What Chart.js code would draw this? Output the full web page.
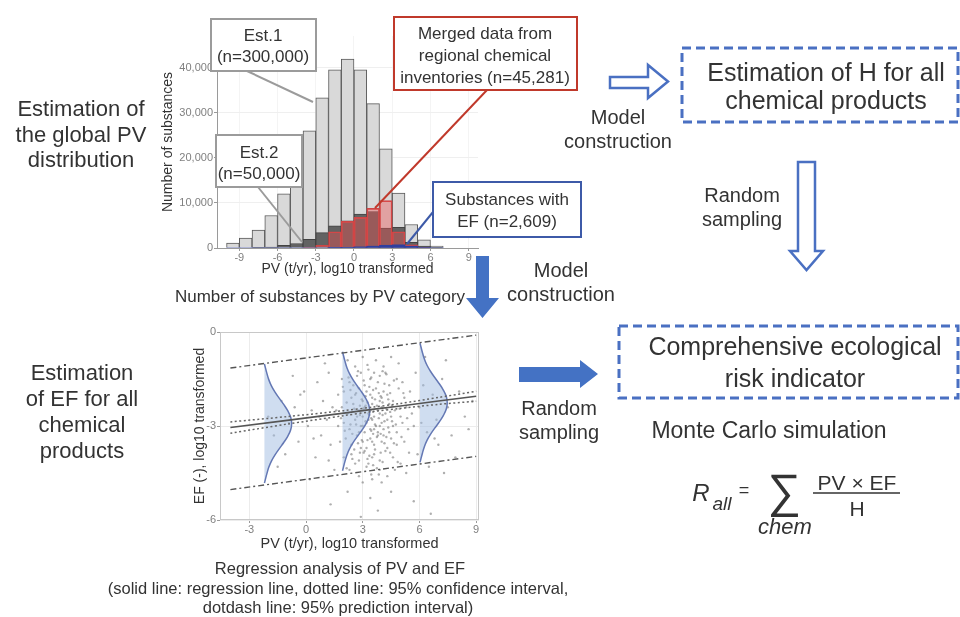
<!DOCTYPE html>
<html><head><meta charset="utf-8">
<script src="https://cdn.jsdelivr.net/npm/chart.js@4.4.0/dist/chart.umd.min.js"></script>
<style>
html,body{margin:0;padding:0;background:#fff;}
#stage{position:relative;width:960px;height:617px;overflow:hidden;font-family:"Liberation Sans",Arial,sans-serif;color:#333;}
.c{position:absolute;}
.t{position:absolute;white-space:nowrap;transform:translate(-50%,-50%);line-height:1;}
svg{position:absolute;left:0;top:0;}
</style></head>
<body><div id="stage">
<div class="c" style="left:150px;top:20px;width:330px;height:265px"><canvas id="hist" width="330" height="265"></canvas></div>
<div class="c" style="left:180px;top:320px;width:310px;height:240px"><canvas id="scat" width="310" height="240"></canvas></div>
<svg width="960" height="617">
  <line x1="247" y1="71" x2="313" y2="102" stroke="#9b9b9b" stroke-width="2"/>
  <rect x="211" y="19" width="105" height="52" fill="#fff" stroke="#9b9b9b" stroke-width="2"/>
  <line x1="258" y1="187" x2="302" y2="242" stroke="#9b9b9b" stroke-width="2"/>
  <rect x="216" y="135" width="86" height="52" fill="#fff" stroke="#9b9b9b" stroke-width="2"/>
  <line x1="487" y1="90" x2="375" y2="208" stroke="#c0392b" stroke-width="2"/>
  <rect x="394" y="17" width="183" height="73" fill="#fff" stroke="#c0392b" stroke-width="2"/>
  <line x1="433" y1="212" x2="407" y2="244" stroke="#3d5aa8" stroke-width="2"/>
  <rect x="433" y="182" width="148" height="55" fill="#fff" stroke="#3d5aa8" stroke-width="2"/>
  <polygon points="610,77 648,77 648,65 668,81.5 648,98 648,88 610,88" fill="#fff" stroke="#4a70c2" stroke-width="2.5"/>
  <polygon points="798,162 815,162 815,251 823,251 806.5,270 790,251 798,251" fill="#fff" stroke="#4a70c2" stroke-width="2.5"/>
  <polygon points="476,256 489,256 489,298 499,298 482.5,318 466,298 476,298" fill="#4472c4"/>
  <polygon points="519,367 580,367 580,360 598,374 580,388 580,382 519,382" fill="#4472c4"/>
  <rect x="682" y="48" width="276" height="74" fill="none" stroke="#4a70c2" stroke-width="3" stroke-dasharray="9 5"/>
  <rect x="619" y="326" width="339" height="72" fill="none" stroke="#4a70c2" stroke-width="3" stroke-dasharray="9 5"/>
  <line x1="813" y1="493" x2="900" y2="493" stroke="#333" stroke-width="1.6"/>
</svg>

<div class="t" style="left:81px;top:109px;font-size:22px">Estimation of</div>
<div class="t" style="left:81px;top:135px;font-size:22px">the global PV</div>
<div class="t" style="left:81px;top:160px;font-size:22px">distribution</div>
<div class="t" style="left:82px;top:373px;font-size:22px">Estimation</div>
<div class="t" style="left:82px;top:399px;font-size:22px">of EF for all</div>
<div class="t" style="left:82px;top:425px;font-size:22px">chemical</div>
<div class="t" style="left:82px;top:451px;font-size:22px">products</div>

<div class="t" style="left:263px;top:35px;font-size:17px">Est.1</div>
<div class="t" style="left:263px;top:56px;font-size:17px">(n=300,000)</div>
<div class="t" style="left:259px;top:152px;font-size:17px">Est.2</div>
<div class="t" style="left:259px;top:173px;font-size:17px">(n=50,000)</div>
<div class="t" style="left:485px;top:33px;font-size:17px">Merged data from</div>
<div class="t" style="left:485px;top:55px;font-size:17px">regional chemical</div>
<div class="t" style="left:485px;top:77px;font-size:17px">inventories (n=45,281)</div>
<div class="t" style="left:507px;top:199px;font-size:17px">Substances with</div>
<div class="t" style="left:507px;top:221px;font-size:17px">EF (n=2,609)</div>

<div class="t" style="left:320px;top:296px;font-size:17px">Number of substances by PV category</div>

<div class="t" style="left:618px;top:117px;font-size:20px">Model</div>
<div class="t" style="left:618px;top:141px;font-size:20px">construction</div>
<div class="t" style="left:826px;top:72px;font-size:25px">Estimation of H for all</div>
<div class="t" style="left:826px;top:100px;font-size:25px">chemical products</div>
<div class="t" style="left:742px;top:195px;font-size:20px">Random</div>
<div class="t" style="left:742px;top:219px;font-size:20px">sampling</div>
<div class="t" style="left:561px;top:270px;font-size:20px">Model</div>
<div class="t" style="left:561px;top:294px;font-size:20px">construction</div>
<div class="t" style="left:795px;top:346px;font-size:25px">Comprehensive ecological</div>
<div class="t" style="left:795px;top:378px;font-size:25px">risk indicator</div>
<div class="t" style="left:559px;top:408px;font-size:20px">Random</div>
<div class="t" style="left:559px;top:432px;font-size:20px">sampling</div>
<div class="t" style="left:769px;top:430px;font-size:23px">Monte Carlo simulation</div>

<div class="t" style="left:701px;top:493px;font-size:24px;font-style:italic">R</div>
<div class="t" style="left:722px;top:503px;font-size:19px;font-style:italic">all</div>
<div class="t" style="left:744px;top:490px;font-size:18px">=</div>
<div class="t" style="left:784px;top:490px;font-size:47px">∑</div>
<div class="t" style="left:785px;top:527px;font-size:22px;font-style:italic">chem</div>
<div class="t" style="left:857px;top:482px;font-size:21px">PV × EF</div>
<div class="t" style="left:857px;top:508px;font-size:21px">H</div>

<div class="t" style="left:340px;top:568px;font-size:16.5px">Regression analysis of PV and EF</div>
<div class="t" style="left:338px;top:588px;font-size:16.5px">(solid line: regression line, dotted line: 95% confidence interval,</div>
<div class="t" style="left:338px;top:607px;font-size:16.5px">dotdash line: 95% prediction interval)</div>
</div>

<script>
// ---------- Histogram data (PV bins, log10 t/yr) ----------
const binCenters   = [-9.5,-8.5,-7.5,-6.5,-5.5,-4.5,-3.5,-2.5,-1.5,-0.5,0.5,1.5,2.5,3.5,4.5,5.5,6.5];
const est1Counts   = [1100,2200,4000,7200,12000,18000,26000,33300,39500,41900,39500,32000,22000,12200,5200,1800,400];
const est2Counts   = [0,0,50,200,600,1000,1900,3400,4900,6000,7500,8100,4400,4600,1250,400,100];
const mergedCounts = [0,0,0,0,0,0,150,600,3600,5900,6800,8800,10500,3600,700,150,0];
const efCounts     = [0,0,0,0,0,0,0,0,50,150,250,400,600,700,400,100,0];
const histXTicks   = [-9,-6,-3,0,3,6,9];
const histYTicks   = [0,10000,20000,30000,40000];

// ---------- Regression panel data ----------
const scatterPoints = [
 [2.2,-0.9],[2.6,-1.1],[3.0,-0.8],[3.3,-1.2],[3.7,-0.9],[4.1,-1.1],[4.5,-0.8],[4.9,-1.0],[2.9,-1.3],[3.9,-1.4],
 [1.9,-1.5],[2.3,-1.6],[2.7,-1.4],[3.1,-1.7],[3.4,-1.5],[3.8,-1.6],[4.2,-1.3],[4.4,-1.7],[4.8,-1.5],[5.1,-1.6],[2.5,-1.7],[3.6,-1.3],
 [1.7,-2.0],[2.0,-1.9],[2.4,-2.1],[2.8,-1.8],[3.0,-2.2],[3.2,-1.9],[3.5,-2.1],[3.7,-1.8],[3.9,-2.2],[4.1,-1.9],[4.3,-2.0],[4.6,-2.2],[4.9,-1.8],[5.2,-2.1],[5.5,-1.9],[2.6,-2.0],[3.4,-2.0],[4.0,-2.1],
 [1.6,-2.5],[1.9,-2.4],[2.2,-2.6],[2.5,-2.3],[2.8,-2.5],[3.0,-2.7],[3.1,-2.4],[3.3,-2.6],[3.5,-2.3],[3.6,-2.7],[3.8,-2.5],[4.0,-2.4],[4.2,-2.6],[4.4,-2.3],[4.7,-2.5],[5.0,-2.7],[5.3,-2.4],[5.6,-2.6],[2.7,-2.7],[3.4,-2.5],[3.9,-2.6],[4.5,-2.7],
 [1.7,-3.0],[2.0,-2.9],[2.3,-3.1],[2.6,-2.8],[2.9,-3.0],[3.1,-3.2],[3.2,-2.9],[3.4,-3.1],[3.5,-2.8],[3.7,-3.0],[3.8,-3.2],[4.0,-2.9],[4.1,-3.1],[4.3,-2.8],[4.6,-3.0],[4.8,-3.2],[5.1,-2.9],[5.4,-3.1],[2.8,-3.2],[3.3,-2.8],[3.6,-3.1],[4.4,-3.2],[3.0,-3.0],[3.9,-3.0],
 [1.8,-3.5],[2.1,-3.4],[2.4,-3.6],[2.7,-3.3],[3.0,-3.5],[3.2,-3.7],[3.4,-3.4],[3.6,-3.6],[3.8,-3.3],[4.0,-3.5],[4.3,-3.7],[4.5,-3.4],[4.8,-3.6],[5.2,-3.5],[2.9,-3.7],[3.5,-3.5],[4.1,-3.3],
 [2.0,-4.0],[2.4,-3.9],[2.8,-4.1],[3.1,-3.8],[3.3,-4.2],[3.6,-3.9],[3.9,-4.1],[4.2,-3.8],[4.6,-4.0],[5.0,-4.2],[3.5,-4.0],[2.6,-4.2],
 [2.3,-4.4],[2.8,-4.6],[3.2,-4.3],[3.5,-4.7],[3.9,-4.4],[4.3,-4.6],[4.7,-4.4],[3.0,-4.8],[4.0,-4.8],[5.3,-4.5],
 [2.2,-5.1],[3.4,-5.3],[4.5,-5.1],[3.8,-5.7],[5.7,-5.4],[1.3,-5.5],[6.6,-5.8],[2.9,-5.9],
 [-2.0,-2.7],[-1.7,-3.3],[-1.3,-2.2],[-1.1,-3.9],[-0.9,-2.9],[-0.6,-2.4],[-0.4,-3.5],[-0.1,-1.9],[0.1,-3.0],[0.3,-2.5],[0.5,-4.0],[0.6,-1.6],[0.8,-3.3],[0.9,-2.2],[1.1,-2.8],[1.2,-1.3],[1.3,-3.6],[1.4,-2.4],[1.5,-4.4],[0.2,-4.7],[-0.7,-1.4],[1.0,-1.0],[-1.5,-4.3],[0.4,-3.4],[1.2,-4.1],[-0.3,-2.0],[0.7,-2.7],
 [5.8,-1.3],[6.0,-2.4],[6.2,-1.7],[6.4,-3.2],[6.7,-2.0],[6.9,-2.8],[7.2,-1.5],[7.5,-2.4],[7.7,-3.3],[8.1,-1.9],[8.4,-2.7],[5.9,-3.9],[6.5,-4.3],[7.0,-3.6],[7.9,-4.0],[8.6,-3.1],[6.3,-0.8],[7.4,-0.9],[5.7,-3.0],[6.1,-2.9],[6.8,-3.4],[7.3,-4.5],[8.8,-2.2],
 [2.65,-1.95],[3.15,-2.35],[3.45,-2.75],[3.75,-3.35],[4.05,-2.25],[4.35,-3.05],[2.85,-2.65],[3.25,-3.45],[3.55,-1.85],[3.95,-3.85],[4.25,-2.45],[2.45,-3.25],[3.05,-1.55],[3.65,-2.15],[4.15,-1.65],[3.35,-3.95],[2.75,-3.55],[4.55,-2.85],[3.85,-2.75],[3.15,-2.05],[2.95,-3.45],[4.45,-1.95],[3.55,-3.25],[2.55,-2.45],[3.75,-4.35],[4.65,-3.55],[3.25,-1.05],[4.05,-4.15],[2.35,-1.85],[3.45,-4.55],
 [2.15,-2.25],[2.35,-2.95],[2.55,-3.75],[2.75,-1.25],[2.95,-2.15],[3.05,-3.85],[3.15,-2.85],[3.25,-2.25],[3.35,-1.75],[3.45,-3.15],[3.55,-2.55],[3.65,-3.75],[3.75,-2.35],[3.85,-1.95],[3.95,-3.25],[4.05,-2.65],[4.15,-3.55],[4.25,-1.35],[4.35,-2.15],[4.45,-3.85],[4.55,-2.35],[4.65,-1.55],[4.75,-2.95],[4.85,-4.15],[4.95,-2.45],[5.05,-3.35],[5.15,-1.95],[2.05,-3.15],[2.25,-1.45],[2.45,-4.05],[2.65,-2.95],[2.85,-3.85],[3.05,-2.45],[3.25,-4.05],[3.45,-1.45],[3.65,-2.95],[3.85,-4.55],[4.05,-1.25],[4.25,-3.35],[4.45,-2.55],[1.85,-2.75],[5.35,-2.75],[5.45,-3.85],[1.95,-1.75],[2.15,-4.35],[3.35,-2.65],[3.95,-2.05],[2.85,-2.35],[4.15,-2.85],[3.55,-4.25]
];
const fitPV      = [-4.0,-1,2,3.5,5,7,9];
const fitEF      = [-3.05,-2.82,-2.59,-2.47,-2.36,-2.20,-2.05];
const ciUpperEF  = [-2.87,-2.70,-2.51,-2.40,-2.28,-2.09,-1.89];
const ciLowerEF  = [-3.23,-2.94,-2.67,-2.54,-2.44,-2.31,-2.21];
const piPV       = [-4.0, 9.0];
const piUpperEF  = [-1.15, -0.10];
const piLowerEF  = [-5.03, -3.97];
const densityBasePV   = [-2.2, 1.93, 6.03];
const densityCenterEF = [-2.92, -2.53, -2.26];
const densityDY    = [1.9,1.6,1.4,1.2,1.0,0.8,0.6,0.4,0.2,0,-0.2,-0.4,-0.6,-0.8,-1.0,-1.2,-1.4,-1.6,-1.9];
const densityWidth = [0,0.13,0.23,0.37,0.56,0.79,1.03,1.24,1.39,1.44,1.39,1.24,1.03,0.79,0.56,0.37,0.23,0.13,0];
const scatXTicks = [-3,0,3,6,9];
const scatYTicks = [-6,-3,0];

const FAM = '"Liberation Sans", Arial, sans-serif';
Chart.defaults.font.family = FAM;

const xy = (xs, ys) => xs.map((x,i)=>({x, y: ys[i]}));
const setTicks = arr => (s => { s.ticks = arr.map(v=>({value:v})); });

// ---------- Histogram ----------
new Chart(document.getElementById('hist'), {
  type: 'bar',
  data: { datasets: [
    {label:'Est.1 (n=300,000)', data: xy(binCenters, est1Counts), backgroundColor:'#d9d9d9', borderColor:'#5a5a5a', borderWidth:1, order:4},
    {label:'Est.2 (n=50,000)', data: xy(binCenters, est2Counts), backgroundColor:'#626262', borderColor:'#444', borderWidth:1, order:3},
    {label:'Merged data', data: xy(binCenters, mergedCounts), backgroundColor:'rgba(238,80,80,0.40)', borderColor:'#cf4545', borderWidth:1, order:2},
    {label:'Substances with EF', data: xy(binCenters, efCounts), backgroundColor:'#2f3f9f', borderWidth:0, order:1}
  ]},
  options: {
    responsive:false, animation:false, devicePixelRatio:1,
    layout:{padding:{left:0,right:2,top:16,bottom:0}},
    plugins:{legend:{display:false}, tooltip:{enabled:false}},
    datasets:{bar:{grouped:false, barPercentage:1, categoryPercentage:1}},
    scales:{
      x:{type:'linear', min:-10.75, max:9.73, offset:false,
         afterBuildTicks: setTicks(histXTicks),
         afterFit: s => { s.height = 37; },
         grid:{color:'#f4f4f4', tickColor:'#999', tickLength:3, offset:false},
         border:{color:'#9a9a9a'},
         ticks:{font:{size:11}, color:'#808080', padding:0, maxRotation:0, autoSkip:false},
         title:{display:true, text:'PV (t/yr), log10 transformed', font:{size:14}, color:'#333', padding:{top:0,bottom:7}}},
      y:{min:0, max:47000,
         afterBuildTicks: setTicks(histYTicks),
         afterFit: s => { s.width = 67; },
         grid:{color:'#efefef', tickColor:'#999', tickLength:3},
         border:{color:'#9a9a9a'},
         ticks:{font:{size:11}, color:'#808080', padding:1, callback: v => v.toLocaleString('en-US')},
         title:{display:true, text:'Number of substances', font:{size:14}, color:'#333', padding:{top:10,bottom:0}}}
    }
  }
});

// ---------- Regression scatter ----------
const panelBorder = {
  id:'panelBorder',
  afterDatasetsDraw(chart){
    const {ctx, chartArea:a} = chart;
    ctx.save(); ctx.strokeStyle = '#c8c8c8'; ctx.lineWidth = 1;
    ctx.strokeRect(a.left+0.5, a.top+0.5, a.right-a.left-1, a.bottom-a.top-1);
    ctx.restore();
  }
};
const densitySets = densityBasePV.map((b, k) => ({
  label:'EF distribution '+(k+1),
  data: densityDY.map((d,i)=>({x: b + densityWidth[i], y: densityCenterEF[k] + d})),
  showLine:true, fill:'shape', tension:0.4, pointRadius:0,
  borderColor:'#6478b4', borderWidth:1.5, backgroundColor:'rgba(160,188,226,0.5)', order:5
}));
new Chart(document.getElementById('scat'), {
  type:'scatter',
  data:{ datasets:[
    {label:'Substances', data: scatterPoints.map(([x,y])=>({x,y})), pointRadius:1.2, pointBorderWidth:0, backgroundColor:'rgba(95,95,95,0.5)', order:9},
    ...densitySets,
    {label:'Regression', data: xy(fitPV, fitEF), showLine:true, pointRadius:0, borderColor:'#555', borderWidth:1.6, order:1},
    {label:'95% CI upper', data: xy(fitPV, ciUpperEF), showLine:true, tension:0.3, pointRadius:0, borderColor:'#666', borderWidth:1.5, borderDash:[2,2.5], order:2},
    {label:'95% CI lower', data: xy(fitPV, ciLowerEF), showLine:true, tension:0.3, pointRadius:0, borderColor:'#666', borderWidth:1.5, borderDash:[2,2.5], order:2},
    {label:'95% PI upper', data: xy(piPV, piUpperEF), showLine:true, pointRadius:0, borderColor:'#555', borderWidth:1.4, borderDash:[6,3,2,3], order:2},
    {label:'95% PI lower', data: xy(piPV, piLowerEF), showLine:true, pointRadius:0, borderColor:'#555', borderWidth:1.4, borderDash:[6,3,2,3], order:2}
  ]},
  options:{
    responsive:false, animation:false, devicePixelRatio:1,
    layout:{padding:{left:0,right:11,top:12,bottom:0}},
    plugins:{legend:{display:false}, tooltip:{enabled:false}},
    scales:{
      x:{type:'linear', min:-4.55, max:9.15,
         afterBuildTicks: setTicks(scatXTicks),
         afterFit: s => { s.height = 40; },
         grid:{color:'#ececec', tickColor:'#999', tickLength:3},
         border:{display:false},
         ticks:{font:{size:11}, color:'#808080', padding:0, maxRotation:0, autoSkip:false},
         title:{display:true, text:'PV (t/yr), log10 transformed', font:{size:14.5}, color:'#333', padding:{top:0,bottom:7}}},
      y:{min:-6, max:0,
         afterBuildTicks: setTicks(scatYTicks),
         afterFit: s => { s.width = 40; },
         grid:{color:'#ececec', tickColor:'#999', tickLength:3},
         border:{display:false},
         ticks:{font:{size:11}, color:'#808080', padding:1},
         title:{display:true, text:'EF (-), log10 transformed', font:{size:14}, color:'#333', padding:{top:12,bottom:0}}}
    }
  },
  plugins:[panelBorder]
});
</script>
</body></html>
